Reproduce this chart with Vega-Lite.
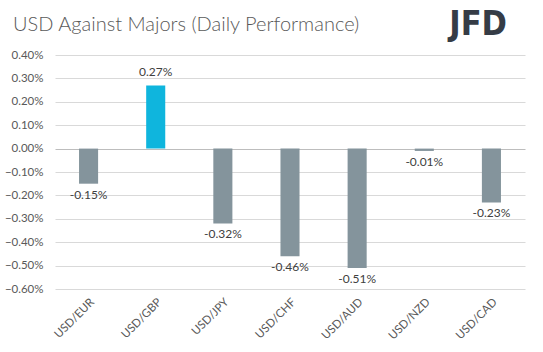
{
  "$schema": "https://vega.github.io/schema/vega-lite/v6.json",
  "autosize": "none",
  "width": 470,
  "height": 234,
  "padding": {"left": 55, "top": 55, "right": 18, "bottom": 63},
  "background": "white",
  "config": {"view": {"stroke": null}, "font": "Lato"},
  "title": {
    "text": "USD Against Majors (Daily Performance)",
    "anchor": "start",
    "frame": "group",
    "dx": -42,
    "offset": -27,
    "fontSize": 20,
    "font": "Lato",
    "fontWeight": 300,
    "color": "#595959"
  },
  "data": {
    "values": [
      {"pair": "USD/EUR", "change": -0.15, "label": "-0.15%"},
      {"pair": "USD/GBP", "change": 0.27, "label": "0.27%"},
      {"pair": "USD/JPY", "change": -0.32, "label": "-0.32%"},
      {"pair": "USD/CHF", "change": -0.46, "label": "-0.46%"},
      {"pair": "USD/AUD", "change": -0.51, "label": "-0.51%"},
      {"pair": "USD/NZD", "change": -0.01, "label": "-0.01%"},
      {"pair": "USD/CAD", "change": -0.23, "label": "-0.23%"}
    ]
  },
  "encoding": {
    "x": {
      "field": "pair",
      "type": "nominal",
      "sort": null,
      "scale": {"paddingInner": 0.716, "paddingOuter": 0.358},
      "axis": {
        "title": null,
        "labelAngle": -45,
        "labelAlign": "right",
        "labelBaseline": "top",
        "labelFontSize": 11.5,
        "labelColor": "#595959",
        "labelPadding": 7,
        "domain": false,
        "ticks": false
      }
    },
    "y": {
      "field": "change",
      "type": "quantitative",
      "scale": {"domain": [-0.6, 0.4], "nice": false},
      "axis": {
        "title": null,
        "values": [0.4, 0.3, 0.2, 0.1, 0, -0.1, -0.2, -0.3, -0.4, -0.5, -0.6],
        "labelExpr": "format(datum.value/100, '.2%')",
        "labelOverlap": false,
        "labelFontSize": 11.5,
        "labelColor": "#595959",
        "labelPadding": 12,
        "domain": false,
        "ticks": false,
        "gridColor": {"condition": {"test": "datum.value === 0", "value": "#bdbdbd"}, "value": "#d9d9d9"},
        "gridWidth": 1
      }
    }
  },
  "layer": [
    {
      "mark": {"type": "bar"},
      "encoding": {
        "color": {
          "condition": {"test": "datum.change > 0", "value": "#0fb5dd"},
          "value": "#84949c"
        }
      }
    },
    {
      "transform": [{"filter": "datum.change < 0"}],
      "mark": {"type": "text", "fontSize": 12, "color": "#404040", "baseline": "top", "dy": 6},
      "encoding": {"text": {"field": "label"}}
    },
    {
      "transform": [{"filter": "datum.change > 0"}],
      "mark": {"type": "text", "fontSize": 12, "color": "#404040", "baseline": "bottom", "dy": -6},
      "encoding": {"text": {"field": "label"}}
    },
    {
      "data": {"values": [{"logo": "JFD"}]},
      "mark": {
        "type": "text",
        "fontSize": 34,
        "fontWeight": "bold",
        "font": "DejaVu Sans Condensed",
        "color": "#353c46",
        "align": "right",
        "baseline": "middle"
      },
      "encoding": {"text": {"field": "logo"}, "x": {"value": {"expr": "width - 18"}}, "y": {"value": {"expr": "-30"}}}
    }
  ]
}
